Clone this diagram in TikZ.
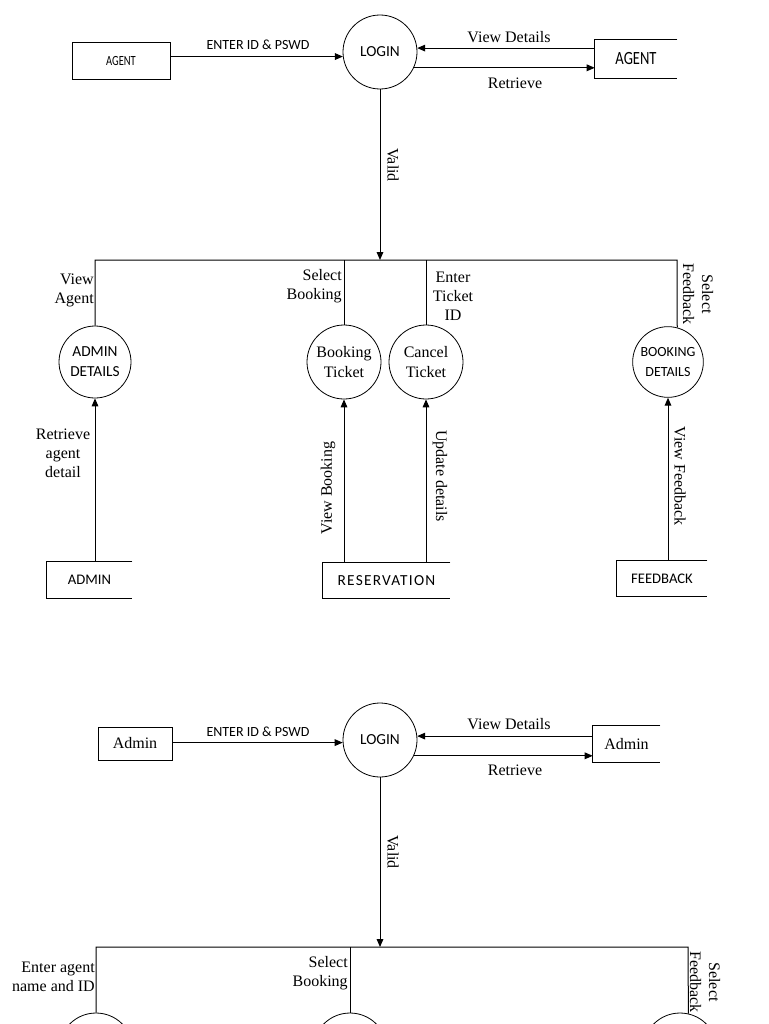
\documentclass[tikz,border=0pt]{standalone}
\usepackage{fontspec}
\usepackage{graphicx}
\setmainfont{Liberation Serif}
\newfontfamily\carl{Carlito}
\newfontfamily\carlsp{Carlito}[LetterSpace=8]
\usetikzlibrary{arrows.meta}
\begin{document}
\begin{tikzpicture}[x=0.75pt,y=-0.75pt,
  ln/.style={line width=0.75pt},
  arr/.style={ln,-{Triangle[length=6pt,width=5pt]}},
  proc/.style={circle,draw,line width=0.6pt,minimum size=55.5pt,inner sep=0pt,align=center},
  boxn/.style={draw,line width=0.75pt,inner sep=0pt},
  openb/.style={inner sep=0pt},
  lbl/.style={font=\fontsize{12}{14.2}\selectfont,inner sep=0pt},
  sfl/.style={font=\carl\fontsize{10.5}{13}\selectfont,inner sep=0pt},
  sfc/.style={font=\carl\fontsize{11.5}{15}\selectfont},
  tmc/.style={font=\fontsize{12}{14.5}\selectfont}
]
\useasboundingbox (0,0) rectangle (768,1024);
\fill[white] (0,0) rectangle (768,1024);
\clip (0,0) rectangle (768,1024);

% ================= TOP DIAGRAM =================
\node[boxn,minimum width=73.5pt,minimum height=27.75pt] (agL) at (121,61.5)
  {\scalebox{0.75}[1]{\carl\fontsize{10.5}{12}\selectfont AGENT}};
\node[proc,sfc] (login) at (380,52) {LOGIN};
\node[openb,minimum width=61.5pt,minimum height=28.5pt] (agR) at (636,59)
  {\scalebox{0.78}[1]{\carl\fontsize{14}{16}\selectfont AGENT}};
\draw[ln] (agR.north east) -- (agR.north west) -- (agR.south west) -- (agR.south east);

\draw[arr] (login.187.8 -| agL.east) -- (login.187.8);
\draw[arr] (login.6.2 -| agR.west) -- (login.6.2);
\draw[arr] (login.-25.6) -- (login.-25.6 -| agR.west);
\node[sfl] (t1) at (258,45) {ENTER ID \& PSWD};
\node[lbl] (t2) at (509,37) {View Details};
\node[lbl] (t3) at (515,83) {Retrieve};

\coordinate (bus) at (380,260);
\draw[arr] (login.south) -- (bus);
\node[lbl,rotate=-90] (t4) at (393,165) {Valid};

\node[proc,sfc,minimum size=54pt] (admD) at (95,362) {ADMIN\\DETAILS};
\node[proc,tmc] (bkT) at (344,362) {Booking\\Ticket};
\node[proc,tmc] (cnT) at (426,362) {Cancel\\Ticket};
\node[proc,font=\carl\fontsize{10.5}{15}\selectfont,minimum size=53pt] (bkD) at (668,362) {BOOKING\\DETAILS};
\coordinate (dropR) at (677,260);

\draw[ln] (admD.north) -- (admD.north |- bus) -- (dropR) -- (bkD.75);
\draw[ln] (bkT.north) -- (bkT.north |- bus);
\draw[ln] (cnT.north) -- (cnT.north |- bus);

\node[lbl,align=right,anchor=east] (t5) at (94,290.5) {View\\Agent};
\node[lbl,align=right,anchor=east] (t6) at (342,286.5) {Select\\Booking};
\node[lbl,align=center] (t7) at (453,296) {Enter\\Ticket\\ID};
\node[lbl,align=center,rotate=-90] (t8) at (698,294) {Select\\Feedback};

\node[openb,minimum width=63.75pt,minimum height=27pt] (adm) at (89.5,580)
  {\carl\fontsize{11}{13}\selectfont ADMIN};
\draw[ln] (adm.north east) -- (adm.north west) -- (adm.south west) -- (adm.south east);
\node[openb,minimum width=95.25pt,minimum height=26.25pt] (resv) at (386.5,580.5)
  {\carlsp\fontsize{11.5}{13}\selectfont RESERVATION};
\draw[ln] (resv.north east) -- (resv.north west) -- (resv.south west) -- (resv.south east);
\node[openb,minimum width=67.5pt,minimum height=26.25pt] (fdb) at (662,578.5)
  {\carl\fontsize{11}{13}\selectfont FEEDBACK};
\draw[ln] (fdb.north east) -- (fdb.north west) -- (fdb.south west) -- (fdb.south east);

\draw[arr] (admD.south |- adm.north) -- (admD.south);
\draw[arr] (bkT.south |- resv.north) -- (bkT.south);
\draw[arr] (cnT.south |- resv.north) -- (cnT.south);
\draw[arr] (bkD.south |- fdb.north) -- (bkD.south);

\node[lbl,align=center] (t9) at (63,453) {Retrieve\\agent\\detail};
\node[lbl,rotate=90] (t10) at (328,488) {View Booking};
\node[lbl,rotate=-90] (t11) at (440,476) {Update details};
\node[lbl,rotate=-90] (t12) at (680,476) {View Feedback};

% ================= BOTTOM DIAGRAM =================
\node[boxn,minimum width=55.5pt,minimum height=24.75pt,tmc] (adL) at (135,743.5) {Admin};
\node[proc,sfc] (login2) at (380,740) {LOGIN};
\node[openb,minimum width=50.25pt,minimum height=27pt,tmc] (adR) at (626.5,744) {Admin};
\draw[ln] (adR.north east) -- (adR.north west) -- (adR.south west) -- (adR.south east);

\draw[arr] (login2.184.6 -| adL.east) -- (login2.184.6);
\draw[arr] (login2.6.2 -| adR.west) -- (login2.6.2);
\draw[arr] (login2.-25.6) -- (login2.-25.6 -| adR.west);
\node[sfl] (u1) at (258,732) {ENTER ID \& PSWD};
\node[lbl] (u2) at (509,724) {View Details};
\node[lbl] (u3) at (515,770) {Retrieve};

\coordinate (bus2) at (380,947);
\draw[arr] (login2.south) -- (bus2);
\node[lbl,rotate=-90] (u4) at (393,852) {Valid};

\node[proc] (c1) at (96,1050) {};
\node[proc] (c2) at (350,1050) {};
\node[proc] (c3) at (680,1050) {};
\coordinate (dropR2) at (688,947);
\draw[ln] (c1.north) -- (c1.north |- bus2) -- (dropR2) -- (c3.77.5);
\draw[ln] (c2.north) -- (c2.north |- bus2);

\node[lbl,align=right,anchor=east] (u5) at (95,977) {Enter agent\\name and ID};
\node[lbl,align=right,anchor=east] (u6) at (348,973) {Select\\Booking};
\node[lbl,align=center,rotate=-90] (u7) at (705,982) {Select\\Feedback};
\end{tikzpicture}
\end{document}
